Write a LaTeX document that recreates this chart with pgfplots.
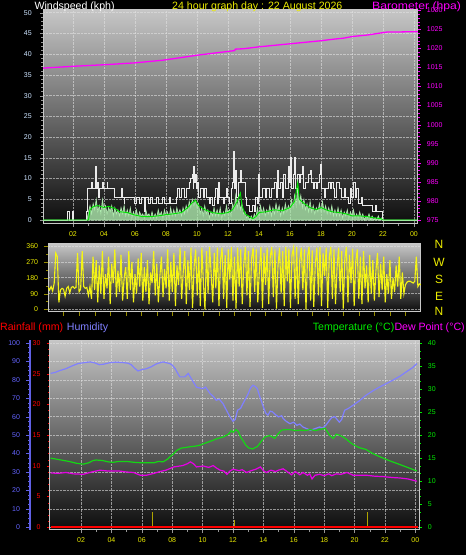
\documentclass[border=0pt]{standalone}
\usepackage{fontspec}
\setmainfont{Liberation Sans}
\usepackage{pgfplots}
\usepackage{pgfplotstable}
\pgfplotsset{compat=1.18}
\pgfplotsset{/pgf/number format/1000 sep={}, /pgf/number format/assume math mode=true}
\definecolor{bgtop}{RGB}{198,198,198}
\definecolor{bgbot}{RGB}{12,12,12}
\definecolor{frame}{RGB}{200,200,200}
\definecolor{gridc}{RGB}{225,225,225}
\definecolor{tickgray}{RGB}{150,150,150}
\definecolor{ylw}{RGB}{235,235,0}
\definecolor{dirc}{RGB}{245,245,20}
\definecolor{oliv}{RGB}{150,140,0}
\definecolor{mag}{RGB}{255,0,255}
\definecolor{dewc}{RGB}{230,0,230}
\definecolor{humc}{RGB}{128,128,255}
\definecolor{humlab}{RGB}{100,100,255}
\definecolor{humax}{RGB}{96,96,230}
\definecolor{tgreen}{RGB}{0,235,0}
\definecolor{tline}{RGB}{20,215,20}
\definecolor{wlab}{RGB}{205,228,255}
\definecolor{barc}{RGB}{175,165,0}
\definecolor{palegreen}{RGB}{175,235,175}
\definecolor{avgc}{RGB}{0,230,0}
\definecolor{gustc}{RGB}{235,235,235}

\pgfplotstableread{
h v
0 0
1.65 2
1.8 0
1.95 2
2.02 0
2.85 2
2.96 7.5
3.2 9
3.27 7.5
3.45 13
3.52 7.5
3.6 9
3.65 5.5
3.7 7.5
3.88 9
3.95 7.5
4.2 9
4.25 7.5
4.7 5.5
5.15 7.5
5.2 5.5
5.3 4
5.35 5.5
6.0 4
6.12 5.5
6.3 4
6.45 5.5
6.6 2
6.68 5.5
6.85 4
7.0 5.5
7.1 4
7.4 5.5
7.5 4
7.8 5.5
7.9 4
8.2 5.5
8.3 4
8.65 5.5
8.75 7.5
8.9 5.5
9.0 7.5
9.2 5.5
9.3 7.5
9.5 9
9.6 10
9.68 11
9.75 7.5
9.8 13
9.86 9
9.9 11
9.96 7.5
10.05 9
10.12 5.5
10.2 7.5
10.4 5.5
10.5 7.5
10.6 5.5
10.8 4
10.9 5.5
11.0 3.5
11.1 5.5
11.2 7.5
11.3 4
11.4 9
11.48 5.5
11.7 4
11.8 5.5
11.9 7.5
12.0 5.5
12.1 4
12.2 7.5
12.3 9
12.35 16.5
12.42 7.5
12.5 12
12.56 5.5
12.7 9
12.8 12
12.88 9
13.1 5.5
13.2 3.5
13.4 2
13.6 3.5
13.7 2
13.8 5.5
13.9 4
14.0 11
14.06 5.5
14.2 7.5
14.4 5.5
14.5 7.5
14.7 5.5
14.8 7.5
15.0 9
15.1 5.5
15.2 12
15.26 7.5
15.4 9
15.5 5.5
15.6 11
15.68 7.5
15.9 13
15.96 9
16.05 15
16.11 7.5
16.25 11
16.3 15
16.36 7.5
16.5 11
16.6 9
16.7 11
16.8 13
16.86 7.5
17.0 9
17.2 11
17.3 12
17.38 9
17.5 7.5
17.6 9
17.7 7.5
17.8 9
17.9 11
18.0 13.5
18.06 7.5
18.2 5.5
18.3 7.5
18.5 9
18.62 7.5
18.7 9
18.8 7.5
18.9 5.5
19.0 9
19.2 7.5
19.3 5.5
19.5 7.5
19.6 5.5
19.8 4
19.9 7.5
20.0 5.5
20.1 9
20.2 5.5
20.3 7.5
20.4 4
20.6 5.5
20.7 3.5
21.3 2
21.5 3.5
21.6 2
22.0 0
24.3 0
}\gusttab

\pgfplotstableread{
h v
0 0
2.9 0
3.0 2
3.1 3.5
3.2 1.5
3.3 4
3.4 2.5
3.5 5
3.6 2
3.7 3.5
3.8 1.5
3.9 5
4.0 2.5
4.1 3.5
4.2 1.5
4.3 3
4.4 2
4.5 3.5
4.6 1
4.7 3
4.8 1.5
4.9 2.5
5.0 1
5.1 3
5.2 1.5
5.3 3.5
5.4 1
5.5 2.5
5.6 1
5.7 3
5.8 0.5
5.9 2
6.0 1
6.1 2.5
6.2 0.5
6.3 2
6.4 1
6.5 1.5
6.6 0.5
6.7 2.5
6.8 1
6.9 1.5
7.0 0.5
7.1 2
7.2 0.5
7.3 1.5
7.4 0.5
7.5 2.5
7.6 1
7.7 2
7.8 0.5
7.9 2.5
8.0 1
8.1 2
8.2 0.5
8.3 3
8.4 1
8.5 2.5
8.6 1
8.7 3
8.8 1.5
8.9 2.5
9.0 1
9.1 3
9.2 1.5
9.3 3.5
9.4 2
9.5 4.5
9.6 3
9.7 5
9.8 3.5
9.9 5
10.0 3
10.1 4
10.2 1.5
10.3 3
10.4 1
10.5 3.5
10.6 1.5
10.7 2.5
10.8 0.5
10.9 2
11.0 1
11.1 3
11.2 1
11.3 2.5
11.4 1
11.5 3
11.6 0.5
11.7 2
11.8 1
11.9 3.5
12.0 1.5
12.1 2.5
12.2 1
12.3 4
12.4 2.5
12.5 6
12.6 3
12.7 5
12.8 2.5
12.9 4
13.0 1.5
13.1 2
13.2 0.5
13.3 1
13.4 0
13.5 1
13.6 0
13.7 1.5
13.8 0.5
13.9 3
14.0 1
14.1 3.5
14.2 1.5
14.3 3
14.4 1
14.5 2.5
14.6 1.5
14.7 3.5
14.8 1
14.9 3
15.0 1.5
15.1 4
15.2 2
15.3 3.5
15.4 1
15.5 3
15.6 1.5
15.7 4
15.8 2
15.9 3.5
16.0 2.5
16.1 5
16.2 3
16.3 6
16.4 3.5
16.5 8
16.6 4
16.7 6
16.8 3
16.9 5
17.0 2.5
17.1 4
17.2 2
17.3 4.5
17.4 2
17.5 3.5
17.6 1.5
17.7 3
17.8 2
17.9 4
18.0 2
18.1 4.5
18.2 2
18.3 3.5
18.4 1.5
18.5 3
18.6 1.5
18.7 3.5
18.8 1
18.9 2.5
19.0 1
19.1 3
19.2 1
19.3 2.5
19.4 0.5
19.5 2
19.6 1
19.7 2.5
19.8 0.5
19.9 2
20.0 1
20.1 2.5
20.2 0.5
20.3 1.5
20.4 0.5
20.5 2
20.6 0.5
20.7 1.5
20.8 0
20.9 1
21.0 0.5
21.1 1.5
21.2 0
21.3 1
21.4 0
21.5 0.5
21.6 0
21.7 1
21.8 0
21.9 0.5
22.0 0
24.3 0
}\spdtab

\pgfplotstableread{
h v
0 0
3.0 0
3.1 2.5
3.3 3.2
3.6 3.5
4.0 3.0
4.3 3.3
4.7 2.8
5.0 2.0
5.5 1.8
6.0 1.2
6.5 0.8
7.0 0.8
7.5 1.0
8.0 1.3
8.5 1.5
9.0 1.8
9.4 3.0
9.7 4.2
9.9 4.8
10.1 3.5
10.5 2.5
11.0 1.8
11.5 1.5
12.0 1.8
12.3 2.5
12.6 4.5
12.8 6.5
12.9 3.5
13.1 1.5
13.4 0.8
13.6 0.3
13.8 0.8
14.0 1.8
14.5 2.0
15.0 2.5
15.5 2.2
16.0 3.0
16.3 4.5
16.5 9.0
16.6 5.0
16.9 4.0
17.3 3.0
17.7 2.5
18.0 3.0
18.3 2.5
18.7 2.0
19.2 1.8
19.6 1.5
20.0 1.0
20.5 1.0
21.0 0.8
21.5 0.5
21.9 0.3
22.0 0
24.3 0
}\avgtab

\pgfplotstableread{
h p
0 1014.8
2 1015.3
4 1015.7
6 1016.2
7.8 1016.9
9 1017.6
10 1018.2
11 1018.7
12 1019.2
12.4 1019.4
12.5 1019.8
13 1019.9
14 1020.4
15 1020.8
16 1021.2
17 1021.6
18 1022.0
18.8 1022.4
19.5 1022.7
20 1023.1
21 1023.5
21.8 1024.0
22.3 1024.3
23 1024.3
24.3 1024.4
}\barotab

\pgfplotstableread{
h d
0.0 125
0.1 110
0.2 130
0.3 105
0.4 150
0.5 320
0.6 300
0.7 40
0.8 110
0.9 120
1.0 115
1.1 75
1.2 120
1.3 130
1.4 95
1.5 125
1.6 130
1.7 120
1.8 125
1.9 320
2.0 100
2.1 115
2.2 330
2.3 130
2.4 120
2.5 125
2.6 80
2.7 130
2.8 60
2.9 300
3.0 110
3.1 280
3.2 40
3.3 250
3.4 90
3.5 330
3.6 60
3.7 200
3.8 120
3.9 300
4.0 30
4.1 260
4.2 150
4.3 340
4.4 70
4.5 220
4.6 100
4.7 310
4.8 50
4.9 180
5.0 240
5.1 60
5.2 330
5.3 110
5.4 270
5.5 40
5.6 200
5.7 90
5.8 290
5.9 130
6.0 320
6.1 50
6.2 240
6.3 100
6.4 280
6.5 30
6.6 210
6.7 150
6.8 330
6.9 80
7.0 260
7.1 40
7.2 190
7.3 300
7.4 70
7.5 230
7.6 120
7.7 340
7.8 50
7.9 270
8.0 100
8.1 320
8.2 20
8.3 250
8.4 140
8.5 350
8.6 60
8.7 210
8.8 330
8.9 30
9.0 280
9.1 110
9.2 350
9.3 10
9.4 240
9.5 340
9.6 80
9.7 300
9.8 20
9.9 350
10.0 150
10.1 0
10.2 330
10.3 90
10.4 355
10.5 200
10.6 40
10.7 320
10.8 120
10.9 350
11.0 20
11.1 280
11.2 350
11.3 60
11.4 310
11.5 10
11.6 340
11.7 170
11.8 355
11.9 50
12.0 300
12.1 5
12.2 350
12.3 130
12.4 340
12.5 30
12.6 260
12.7 355
12.8 80
12.9 330
13.0 15
13.1 290
13.2 350
13.3 100
13.4 340
13.5 40
13.6 220
13.7 355
13.8 10
13.9 320
14.0 140
14.1 350
14.2 30
14.3 300
14.4 355
14.5 70
14.6 340
14.7 5
14.8 250
14.9 350
15.0 90
15.1 330
15.2 20
15.3 355
15.4 160
15.5 345
15.6 10
15.7 310
15.8 350
15.9 60
16.0 355
16.1 30
16.2 280
16.3 350
16.4 110
16.5 340
16.6 0
16.7 300
16.8 355
16.9 50
17.0 335
17.1 15
17.2 260
17.3 350
17.4 80
17.5 355
17.6 20
17.7 320
17.8 190
17.9 350
18.0 10
18.1 300
18.2 355
18.3 60
18.4 340
18.5 30
18.6 240
18.7 350
18.8 100
18.9 330
19.0 5
19.1 290
19.2 355
19.3 40
19.4 310
19.5 150
19.6 345
19.7 20
19.8 270
19.9 340
20.0 60
20.1 300
20.2 30
20.3 330
20.4 120
20.5 250
20.6 40
20.7 310
20.8 90
20.9 280
21.0 50
21.1 220
21.2 320
21.3 70
21.4 260
21.5 110
21.6 300
21.7 40
21.8 200
21.9 90
22.0 280
22.1 60
22.2 180
22.3 100
22.4 250
22.5 130
22.6 300
22.7 60
22.8 210
22.9 90
23.0 140
23.1 155
23.2 160
23.3 160
23.4 155
23.5 150
23.6 160
23.7 300
23.8 130
23.9 145
24.0 140
}\dirtab

\pgfplotstableread{
h v
0.0 83.5
0.3 84
0.6 85
1.0 86
1.4 87.5
1.8 88.8
2.2 89.3
2.6 89.7
2.9 89.2
3.2 88.2
3.5 88.5
3.9 89.3
4.3 89.6
4.8 89.3
5.1 89.0
5.3 88.2
5.5 86.5
5.75 84.8
6.0 85.5
6.3 86.0
6.6 87.0
7.0 88.8
7.4 89.7
7.85 88.8
8.0 88.0
8.2 86.0
8.4 83.0
8.5 81.6
8.84 81.6
9.06 83.4
9.3 80.0
9.6 76.0
10.0 75.2
10.2 76.0
10.5 72.5
10.7 71.0
10.9 68.9
11.1 69.5
11.35 67.0
11.6 63.0
11.8 60.0
12.0 57.5
12.15 58.5
12.3 63.5
12.5 64.5
12.65 67.0
12.85 70.0
13.0 72.5
13.15 75.5
13.3 77.0
13.45 76.5
13.6 75.2
13.8 70.0
14.0 65.3
14.15 62.0
14.3 60.8
14.45 63.0
14.6 62.6
14.8 61.0
15.0 59.9
15.2 60.5
15.3 59.0
15.5 57.5
15.75 56.2
16.0 57.0
16.2 55.3
16.4 56.0
16.6 54.4
16.85 53.5
17.1 52.6
17.4 53.5
17.7 54.4
17.9 53.8
18.1 55.3
18.35 58.0
18.5 59.5
18.7 60.0
18.85 58.5
19.0 57.0
19.15 58.5
19.35 63.5
19.6 64.5
19.9 66.2
20.3 68.5
20.75 71.6
21.2 74.0
21.65 76.1
22.1 78.0
22.5 79.7
23.0 82.0
23.4 84.3
23.8 86.5
24.1 88.8
}\humtab

\pgfplotstableread{
h v
0.0 15.0
0.2 14.9
0.7 14.6
1.2 14.3
1.7 13.9
2.15 13.7
2.5 14.0
2.8 14.5
3.0 14.6
3.4 14.5
3.8 14.2
4.1 14.1
4.5 14.3
5.0 14.3
5.5 14.1
6.0 14.0
6.3 14.0
6.8 14.0
7.1 14.3
7.4 14.2
7.7 14.8
7.85 15.3
8.1 16.0
8.3 16.7
8.6 17.2
8.84 17.3
9.2 17.5
9.5 17.6
9.8 17.8
10.2 18.3
10.7 18.9
11.0 19.3
11.35 19.6
11.7 20.2
11.9 21.0
12.0 20.6
12.2 21.2
12.35 20.8
12.5 19.6
12.7 18.6
12.85 17.8
13.05 17.2
13.3 17.0
13.45 17.3
13.6 17.5
13.85 18.6
14.1 19.6
14.4 19.9
14.6 19.6
14.75 19.3
14.95 20.2
15.2 21.1
15.5 21.2
15.75 21.2
16.1 21.0
16.4 21.1
16.7 21.0
17.1 21.2
17.4 21.0
17.7 21.2
18.05 21.5
18.2 20.8
18.35 20.0
18.6 19.3
18.8 20.2
19.0 20.0
19.25 19.6
19.5 19.0
19.8 18.2
20.05 17.7
20.3 17.3
20.75 16.9
21.2 16.0
21.67 15.3
22.1 14.7
22.5 14.2
23.0 13.6
23.4 13.1
23.8 12.6
24.1 12.2
}\temptab

\pgfplotstableread{
h v
0.0 11.8
0.5 11.7
1.0 11.9
1.5 11.6
2.15 11.5
2.7 12.0
3.25 12.4
3.8 12.2
4.55 12.2
5.0 12.0
5.45 11.9
5.9 11.3
6.3 11.3
6.8 11.7
7.2 12.1
7.6 12.4
8.1 13.1
8.7 13.4
9.0 13.8
9.2 14.2
9.4 13.8
9.6 13.1
10.05 13.3
10.4 13.0
10.7 13.4
10.9 12.9
11.15 12.4
11.4 12.2
11.6 11.5
11.8 12.2
12.0 12.6
12.4 12.3
12.6 12.5
12.9 11.9
13.2 12.3
13.5 12.6
13.8 13.1
14.0 12.3
14.2 11.9
14.5 12.4
14.8 12.1
15.0 12.4
15.3 12.7
15.6 12.0
15.85 11.4
16.1 12.1
16.4 11.4
16.6 11.9
16.9 11.3
17.05 11.6
17.2 10.5
17.4 11.3
17.7 11.5
18.0 11.2
18.3 11.6
18.5 11.2
18.8 11.6
19.1 11.5
19.5 11.9
19.9 11.3
20.4 11.3
20.8 11.3
21.3 11.1
21.9 11.0
22.5 10.8
23.0 10.7
23.5 10.5
24.1 10.0
}\dewtab

\pgfplotsset{
  panel/.style={scale only axis, anchor=south west, tick align=outside,
    major tick length=3pt, minor tick length=1.8pt,
    tick label style={font=\fontsize{7}{8}\selectfont},
    axis line style={draw=frame, line width=1pt}},
  bgpanel/.style={axis background/.style={shade, top color=bgtop, bottom color=bgbot},
    grid style={densely dotted, color=gridc, line width=0.5pt, opacity=0.6}},
}

\begin{document}
\begin{tikzpicture}
\useasboundingbox (0pt,0pt) rectangle (466pt,555pt);
\fill[black] (0pt,0pt) rectangle (466pt,555pt);

% ---------- top panel: wind speed ----------
\begin{axis}[panel, bgpanel, at={(43pt,331pt)}, width=375pt, height=214pt,
  xmin=0.065, xmax=24.26, ymin=-0.96, ymax=50.65,
  xtick={2,4,...,24}, xticklabels={02,04,06,08,10,12,14,16,18,20,22,00},
  minor x tick num=1, ytick={0,5,...,50}, minor y tick num=4,
  tick pos=left, grid=major, tick style={color=tickgray},
  xticklabel style={ylw, yshift=-1.5pt}, yticklabel style={wlab, xshift=-4.7pt}]
\addplot[draw=palegreen, fill=palegreen, fill opacity=0.8, line width=0.6pt] table[x=h,y=v] {\spdtab} \closedcycle;
\addplot[const plot, draw=gustc, line width=1pt] table[x=h,y=v] {\gusttab};
\addplot[draw=avgc, line width=0.9pt] table[x=h,y=v] {\avgtab};
\end{axis}
\begin{axis}[panel, at={(43pt,331pt)}, width=375pt, height=214pt,
  xmin=0.065, xmax=24.26, ymin=973.95, ymax=1030.06,
  axis y line*=right, axis x line=none,
  ytick={975,980,...,1030}, minor y tick num=4, tick style={color=mag},
  yticklabel style={mag, xshift=2.4pt}]
\addplot[draw=mag, line width=1.3pt] table[x=h,y=p] {\barotab};
\end{axis}

% ---------- middle panel: wind direction ----------
\begin{axis}[panel, bgpanel, at={(48pt,243pt)}, width=373pt, height=68pt,
  xmin=0, xmax=24, ymin=-14, ymax=371,
  xtick={1,2,...,23}, xticklabels={}, ytick={0,90,180,270,360}, minor y tick num=1,
  tick pos=left, ymajorgrids, tick style={color=oliv}, major tick length=4pt,
  yticklabel style={ylw, xshift=-2.4pt}]
\addplot[draw=dirc, line width=1.1pt] table[x=h,y=d] {\dirtab};
\end{axis}
\foreach \t/\yy in {N/310.5, W/293, S/275.5, E/259, N/243.5}
  \node[text=ylw, font=\fontsize{12}{12}\selectfont, inner sep=0] at (439pt,\yy pt) {\t};

% ---------- bottom panel ----------
\begin{axis}[panel, bgpanel, at={(50pt,25pt)}, width=369pt, height=190pt,
  xmin=-0.04, xmax=24.24, ymin=-1.5, ymax=101.6,
  xtick={2,4,...,24}, xticklabels={02,04,06,08,10,12,14,16,18,20,22,00},
  minor x tick num=1, ytick={0,10,...,100}, yticklabels={}, ytick style={draw=none},
  tick pos=left, grid=major, tick style={color=tickgray},
  xticklabel style={ylw, yshift=-1.5pt}]
\addplot[draw=humc, line width=1.2pt] table[x=h,y=v] {\humtab};
\end{axis}
\begin{axis}[panel, at={(50pt,25pt)}, width=369pt, height=190pt,
  xmin=-0.04, xmax=24.24, ymin=-0.44, ymax=30.49,
  axis y line*=left, axis x line=none,
  ytick={0,5,...,30}, minor y tick num=4, tick style={color=red},
  yticklabel style={red, xshift=-3pt}]
\addplot[ycomb, draw=barc, line width=1.6pt] coordinates {(6.7,2.5) (12.1,1.2) (20.85,2.5)};
\addplot[draw=red, line width=2pt] coordinates {(0,0) (24.2,0)};
\end{axis}
\begin{axis}[panel, at={(50pt,25pt)}, width=369pt, height=190pt,
  xmin=-0.04, xmax=24.24, ymin=-0.586, ymax=40.65,
  axis y line*=right, axis x line=none,
  ytick={0,5,...,40}, minor y tick num=2, tick style={color=tgreen},
  yticklabel style={tgreen, xshift=2.4pt}]
\addplot[draw=tline, line width=1.2pt] table[x=h,y=v] {\temptab};
\addplot[draw=dewc, line width=1.2pt] table[x=h,y=v] {\dewtab};
\end{axis}
\begin{axis}[panel, at={(30pt,25pt)}, width=1pt, height=190pt,
  xmin=0, xmax=1, ymin=-1.5, ymax=101.6,
  axis y line*=left, axis x line=none, axis line style={draw=humax, line width=2pt},
  ytick={0,10,...,100}, minor y tick num=3, tick style={color=humax},
  major tick length=4pt, minor tick length=2pt,
  yticklabel style={humlab, xshift=-2.5pt}]
\end{axis}

% ---------- titles ----------
\begin{scope}[every node/.style={inner sep=0, font=\fontsize{10.6}{12}\selectfont}]
\node[anchor=base west, text=white] at (34.3pt,545.5pt) {Windspeed (kph)};
\node[anchor=base, text=ylw] at (257.3pt,545.5pt) {24 hour graph day : 22 August 2026};
\node[anchor=base west, text=mag, xscale=1.15] at (372pt,545.5pt) {Barometer (hpa)};
\node[anchor=base west, text=red] at (0pt,224.3pt) {Rainfall (mm)};
\node[anchor=base west, text=humc] at (66.7pt,224.3pt) {Humidity};
\node[anchor=base west, text=tgreen] at (312.7pt,224.3pt) {Temperature (°C)};
\node[anchor=base west, text=mag] at (394.3pt,224.3pt) {Dew Point (°C)};
\end{scope}
\end{tikzpicture}
\end{document}
